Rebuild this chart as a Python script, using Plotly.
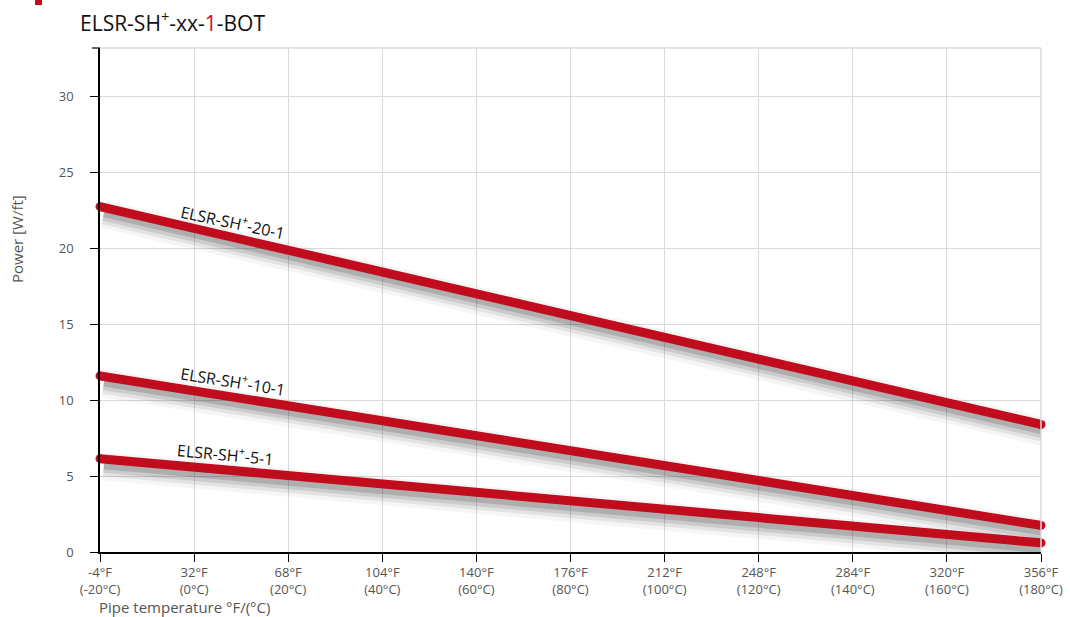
import plotly.graph_objects as go

# ---- data ----
temps_f = [-4, 356]
series_names = ["ELSR-SH<sup>+</sup>-20-1", "ELSR-SH<sup>+</sup>-10-1", "ELSR-SH<sup>+</sup>-5-1"]
series_values = [
    [22.75, 8.4],
    [11.6, 1.75],
    [6.15, 0.6],
]
tick_f = [-4, 32, 68, 104, 140, 176, 212, 248, 284, 320, 356]
tick_c = [-20, 0, 20, 40, 60, 80, 100, 120, 140, 160, 180]
y_ticks = [0, 5, 10, 15, 20, 25, 30]

# ---- style ----
RED = "#C10C1D"
FONT = "Open Sans"
GREY = "#555555"
label_angles = [12, 9, 5.5]
label_xs = [47, 47, 44]
label_dy = 1.05
Y_TOP = 33.2
PW, PH = 941.0, 504.0  # plot area size in px

fig = go.Figure()

# shadows (soft, stacked translucent strokes below each line)
for vals in series_values:
    for w, a, dy in [(28, 0.04, 0.5), (21, 0.07, 0.47), (15, 0.10, 0.44), (9, 0.14, 0.4)]:
        fig.add_trace(go.Scatter(
            x=[t + 1.5 for t in temps_f], y=[v - dy for v in vals], mode="lines",
            line=dict(color=f"rgba(0,0,0,{a})", width=w),
            hoverinfo="skip", showlegend=False))

for name, vals in zip(series_names, series_values):
    fig.add_trace(go.Scatter(
        x=temps_f, y=vals, mode="lines+markers",
        line=dict(color=RED, width=9),
        marker=dict(color=RED, size=9),
        cliponaxis=False, name=name, showlegend=False))

# line labels
for name, vals, ang, lx in zip(series_names, series_values, label_angles, label_xs):
    slope = (vals[1] - vals[0]) / (temps_f[1] - temps_f[0])
    yv = vals[0] + slope * (lx - temps_f[0]) + label_dy
    fig.add_annotation(x=lx, y=yv, text=name, showarrow=False,
                       textangle=ang, font=dict(family=FONT, size=16, color="#111"))

fig.update_xaxes(
    range=[temps_f[0], temps_f[1]],
    tickvals=tick_f,
    ticktext=[f"{f}°F<br>({c}°C)" for f, c in zip(tick_f, tick_c)],
    tickfont=dict(family=FONT, size=13, color=GREY),
    ticks="outside", ticklen=8, tickcolor="#000", tickwidth=1.2,
    showline=True, linecolor="#000", linewidth=1.6,
    showgrid=True, gridcolor="#dadada", gridwidth=1,
    zeroline=False, automargin=False,
)
fig.update_yaxes(
    range=[0, Y_TOP],
    tickvals=y_ticks,
    ticktext=[str(v) for v in y_ticks],
    tickfont=dict(family=FONT, size=13, color=GREY),
    ticks="outside", ticklen=8, tickcolor="#000", tickwidth=1.2,
    ticklabelstandoff=14,
    showline=True, linecolor="#000", linewidth=1.6,
    showgrid=True, gridcolor="#dadada", gridwidth=1,
    zeroline=False, automargin=False,
)

# top border grid line + top tick, right border grid line
fig.add_shape(type="line", xref="paper", yref="paper", x0=0, x1=1, y0=1, y1=1,
              line=dict(color="#dadada", width=1.5))
fig.add_shape(type="line", xref="paper", yref="paper", x0=-8 / PW, x1=0, y0=1, y1=1,
              line=dict(color="#000", width=1.2))
fig.add_shape(type="line", xref="paper", yref="paper", x0=1, x1=1, y0=0, y1=1,
              line=dict(color="#dadada", width=1.5))

# axis titles
fig.add_annotation(xref="paper", yref="paper", x=-3 / PW, y=-55 / PH, xanchor="left", yanchor="middle",
                   text="Pipe temperature °F/(°C)", showarrow=False,
                   font=dict(family=FONT, size=15, color=GREY))
fig.add_annotation(xref="paper", yref="paper", x=-83 / PW, y=313 / PH, xanchor="center", yanchor="middle",
                   text="Power [W/ft]", textangle=-90, showarrow=False,
                   font=dict(family=FONT, size=15, color=GREY))

# chart title
fig.add_annotation(xref="paper", yref="paper", x=-22 / PW, y=530 / PH, xanchor="left", yanchor="middle",
                   text="ELSR-SH<sup>+</sup>-xx-<span style='color:#C8102E'>1</span>-BOT",
                   showarrow=False, font=dict(family=FONT, size=21, color="#111"))

# small red mark at top-left edge
fig.add_shape(type="rect", xref="paper", yref="paper",
              x0=-65 / PW, x1=-58 / PW, y0=547 / PH, y1=560 / PH,
              line=dict(width=0), fillcolor=RED)

fig.update_layout(
    width=1070, height=617,
    margin=dict(l=100, r=29, t=48, b=65, autoexpand=False),
    paper_bgcolor="white", plot_bgcolor="white",
    font=dict(family=FONT),
)

fig.write_html("out.html", config={"displayModeBar": False},
               post_script="document.body.style.margin='0';document.body.style.overflow='hidden';")
